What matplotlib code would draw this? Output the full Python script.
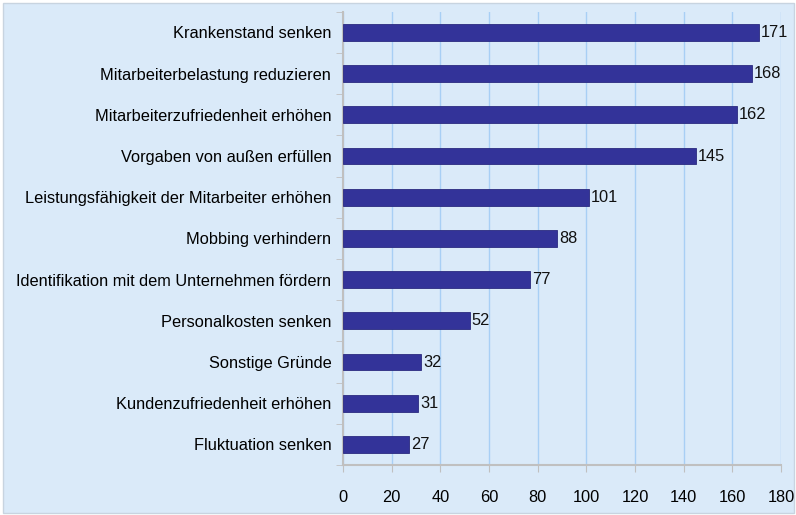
import numpy as np
import matplotlib.pyplot as plt
from matplotlib.patches import Rectangle

plt.rcParams['font.family'] = ['Liberation Sans', 'DejaVu Sans']

labels = ['Krankenstand senken',
          'Mitarbeiterbelastung reduzieren',
          'Mitarbeiterzufriedenheit erhöhen',
          'Vorgaben von außen erfüllen',
          'Leistungsfähigkeit der Mitarbeiter erhöhen',
          'Mobbing verhindern',
          'Identifikation mit dem Unternehmen fördern',
          'Personalkosten senken',
          'Sonstige Gründe',
          'Kundenzufriedenheit erhöhen',
          'Fluktuation senken']
values = [171, 168, 162, 145, 101, 88, 77, 52, 32, 31, 27]
xticks = [0, 20, 40, 60, 80, 100, 120, 140, 160, 180]

bg = '#DAEAF9'
fs = 11.8
fig = plt.figure(figsize=(7.96, 5.15), dpi=100)
fig.patch.set_facecolor('white')
fig.patches.append(Rectangle((0.004, 0.004), 0.994, 0.99, transform=fig.transFigure,
                             facecolor=bg, edgecolor='#C8D4E0', lw=1, zorder=-1))

ax = fig.add_axes([0.431, 0.097, 0.55, 0.880])
ax.set_facecolor('none')

n = len(values)
y = np.arange(n)[::-1]
ax.barh(y, values, height=0.41, color='#333399', edgecolor='#2A2A80', lw=0.6, zorder=3)
for yi, v in zip(y, values):
    ax.text(v + 0.8, yi, str(v), va='center', ha='left', fontsize=fs, color='#111111')

ax.set_xlim(0, 180)
ax.set_ylim(-0.5, n - 0.5)
ax.set_xticks(xticks)
ax.set_xticklabels([str(t) for t in xticks], fontsize=fs)
ax.set_yticks(y)
ax.set_yticklabels(labels, fontsize=fs)
ax.set_yticks(np.arange(n + 1) - 0.5, minor=True)
ax.tick_params(axis='y', which='major', length=0, pad=8.5)
ax.tick_params(axis='y', which='minor', length=5, color='#C0C0C0', direction='out')
ax.tick_params(axis='x', length=5, color='#C0C0C0', direction='out', pad=13)
ax.xaxis.grid(True, color='#A8CFF5', lw=1, zorder=0)
ax.set_axisbelow(True)
for s in ['top', 'right']:
    ax.spines[s].set_visible(False)
for s in ['left', 'bottom']:
    ax.spines[s].set_color('#C0C0C0')
    ax.spines[s].set_linewidth(1.5)

fig.savefig('out.png', dpi=100, facecolor=fig.get_facecolor())
